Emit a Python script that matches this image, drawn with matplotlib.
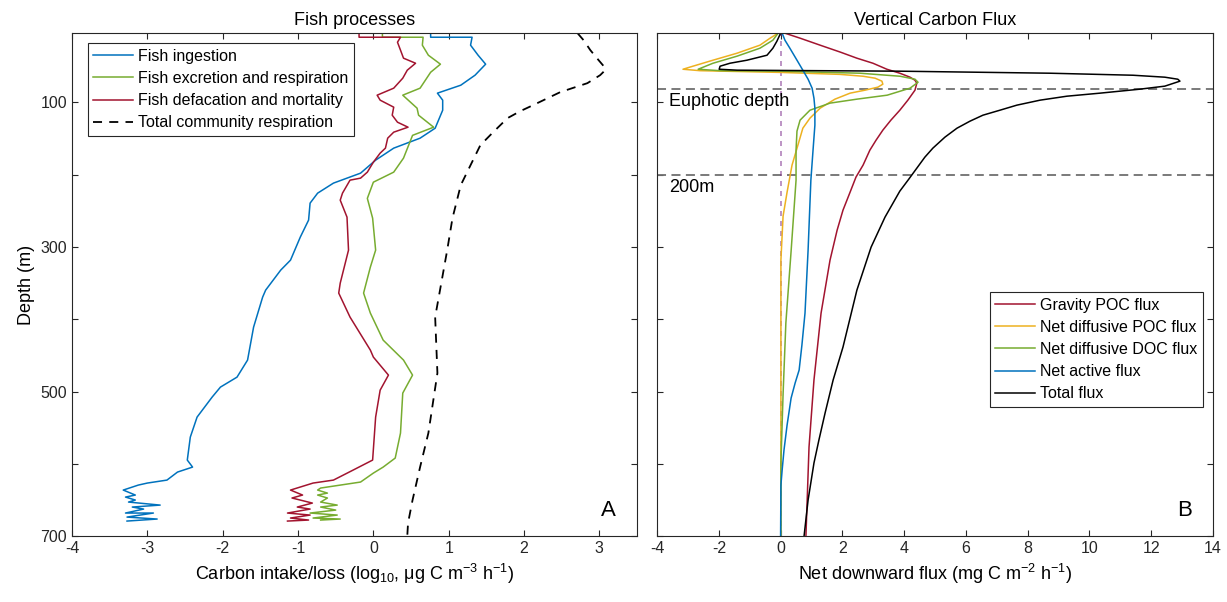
import numpy as np
import matplotlib
matplotlib.use('Agg')
import matplotlib.pyplot as plt

plt.rcParams['font.family'] = ['Liberation Sans', 'DejaVu Sans']
plt.rcParams['mathtext.default'] = 'regular'
plt.rcParams['axes.unicode_minus'] = False

# ---------------- Panel A: fish processes (log10 ug C m-3 h-1) ----------------
ing_depth = [4.1, 9.7, 9.7, 20.7, 34.6, 47.0, 62.2, 76.1, 87.1, 96.8, 110.7, 135.6, 149.4,
             163.2, 179.8, 197.8, 211.6, 225.5, 239.3, 262.8, 286.3, 318.2, 332.0, 359.7,
             369.4, 410.9, 456.5, 480.1, 493.9, 507.7, 535.4, 563.1, 594.9, 604.6, 611.5,
             622.6, 626.7, 629.5, 636.4, 643.3, 646.1, 650.2, 653.0, 657.2, 659.9, 662.7,
             668.2, 668.2, 673.8, 676.5, 679.3]
ing_val = [0.76, 0.76, 1.31, 1.29, 1.39, 1.49, 1.35, 1.16, 0.85, 0.92, 0.92, 0.82, 0.62,
           0.27, 0.03, -0.17, -0.53, -0.74, -0.84, -0.86, -0.97, -1.10, -1.23, -1.43,
           -1.47, -1.59, -1.67, -1.81, -2.03, -2.14, -2.34, -2.43, -2.47, -2.40, -2.60,
           -2.74, -3.00, -3.12, -3.32, -3.16, -3.29, -3.16, -3.25, -2.83, -3.20, -3.05,
           -3.29, -2.92, -3.27, -2.87, -3.27]

exc_depth = [4.1, 9.7, 9.7, 20.7, 34.6, 47.0, 58.2, 80.2, 89.9, 107.9, 117.6, 134.2, 145.5,
             177.0, 196.4, 210.3, 232.7, 260.1, 304.3, 327.8, 363.8, 391.5, 428.9, 456.5,
             477.3, 502.2, 557.5, 592.1, 604.6, 612.9, 625.3, 633.6, 636.4, 640.6, 643.3,
             647.4, 653.0, 657.2, 659.9, 664.1, 668.2, 671.0, 675.1, 676.5, 677.9]
exc_val = [0.12, 0.12, 0.66, 0.65, 0.73, 0.89, 0.76, 0.62, 0.39, 0.58, 0.60, 0.80, 0.52,
           0.40, 0.27, 0.00, -0.08, -0.01, 0.03, -0.04, -0.13, -0.04, 0.13, 0.40,
           0.52, 0.39, 0.36, 0.29, 0.13, 0.00, -0.17, -0.70, -0.74, -0.61, -0.74,
           -0.61, -0.70, -0.48, -0.70, -0.50, -0.84, -0.48, -0.80, -0.44, -0.70]

def_depth = [4.1, 9.7, 9.7, 16.6, 27.6, 38.7, 45.7, 55.3, 66.4, 80.2, 89.9, 96.8, 106.5,
             117.6, 127.3, 134.2, 141.1, 149.4, 163.2, 170.1, 182.6, 196.4, 204.7, 207.5,
             225.5, 235.2, 258.7, 304.3, 350.0, 363.8, 397.0, 442.7, 452.4, 477.3, 498.1,
             535.4, 594.9, 608.8, 622.6, 626.7, 636.4, 643.3, 647.4, 654.4, 659.9, 662.7,
             668.2, 671.0, 675.1, 677.9, 679.3]
def_val = [-0.19, -0.19, 0.36, 0.32, 0.36, 0.40, 0.56, 0.45, 0.39, 0.27, 0.05, 0.09, 0.27,
           0.25, 0.32, 0.46, 0.27, 0.19, 0.16, 0.09, 0.00, -0.08, -0.17, -0.31,
           -0.41, -0.44, -0.35, -0.33, -0.44, -0.46, -0.31, -0.04, 0.00, 0.20, 0.09,
           0.03, -0.01, -0.27, -0.53, -0.80, -1.10, -0.94, -1.08, -0.81, -1.01, -0.84,
           -1.14, -0.84, -1.10, -0.86, -1.14]

resp_depth = [4.1, 13.8, 27.6, 41.5, 52.5, 58.1, 62.2, 73.3, 85.7, 103.7, 112.0, 121.7,
              141.1, 159.1, 186.7, 214.4, 260.1, 304.3, 397.0, 474.5, 557.5, 604.6,
              650.2, 682.1, 700.0]
resp_val = [2.71, 2.79, 2.88, 2.99, 3.08, 3.05, 3.01, 2.84, 2.48, 2.12, 1.95, 1.78,
            1.59, 1.42, 1.29, 1.16, 1.05, 0.98, 0.82, 0.85, 0.73, 0.62, 0.52, 0.46, 0.45]

# ---------------- Panel B: vertical carbon flux (mg C m-2 h-1) ----------------
grav_depth = [4.1, 11.0, 20.7, 30.4, 38.7, 45.7, 54.0, 59.5, 65.0, 69.2, 73.3, 83.0, 96.8,
              110.7, 124.5, 138.3, 152.2, 166.0, 186.7, 203.3, 224.1, 249.0, 276.7,
              318.2, 391.5, 484.2, 576.9, 700.0]
grav_val = [0.14, 0.63, 1.28, 1.94, 2.47, 2.99, 3.44, 3.86, 4.19, 4.35, 4.41, 4.35, 4.12,
            3.86, 3.57, 3.31, 3.09, 2.89, 2.67, 2.44, 2.25, 2.02, 1.83,
            1.60, 1.31, 1.08, 0.92, 0.82]

dpoc_depth = [4.1, 11.0, 20.7, 31.8, 41.5, 49.8, 54.0, 56.0, 58.4, 61.1, 63.7, 66.4, 70.5,
              74.7, 78.8, 83.0, 87.1, 95.4, 107.9, 121.7, 135.6, 159.1, 186.7, 224.1,
              257.3, 318.2, 700.0]
dpoc_val = [-0.08, -0.34, -0.67, -1.41, -2.19, -2.84, -3.16, -2.61, 0.00, 1.92, 2.67, 3.06,
            3.28, 3.31, 3.15, 2.73, 2.25, 1.76, 1.28, 0.95, 0.72, 0.56, 0.37, 0.21,
            0.08, 0.01, 0.01]

ddoc_depth = [4.1, 13.8, 24.9, 35.9, 45.7, 54.0, 56.0, 56.7, 59.5, 63.7, 67.8, 72.0, 80.2,
              89.9, 95.4, 100.9, 110.7, 124.5, 139.7, 166.0, 207.5, 305.7, 405.3, 503.6,
              599.0, 700.0]
ddoc_val = [-0.08, -0.25, -0.67, -1.41, -2.19, -2.67, -1.96, 0.00, 2.57, 3.87, 4.35, 4.45,
            4.19, 3.45, 2.47, 1.60, 0.95, 0.63, 0.53, 0.50, 0.50, 0.34, 0.17, 0.08,
            0.01, 0.01]

act_depth = [4.1, 13.8, 24.9, 41.5, 55.3, 67.8, 80.2, 94.1, 107.9, 131.4, 166.0, 207.5,
             304.3, 391.5, 435.7, 470.3, 488.3, 509.1, 546.4, 581.0, 608.7, 629.5, 700.0]
act_val = [0.05, 0.14, 0.30, 0.53, 0.72, 0.89, 1.02, 1.08, 1.11, 1.11, 1.05, 0.98,
           0.89, 0.79, 0.69, 0.60, 0.47, 0.34, 0.21, 0.11, 0.05, 0.01, 0.00]

tot_depth = [4.1, 15.2, 24.9, 34.6, 41.5, 45.7, 49.8, 54.0, 55.3, 56.7, 59.5, 62.3, 65.0,
             67.8, 70.5, 77.4, 81.6, 87.1, 91.3, 96.8, 103.7, 110.7, 117.6, 125.9, 135.6,
             148.0, 163.2, 175.7, 190.9, 206.1, 222.7, 258.7, 300.2, 359.7, 438.5, 484.2,
             529.8, 567.2, 599.0, 650.2, 700.0]
tot_val = [0.00, -0.12, -0.25, -0.44, -1.09, -1.64, -1.96, -1.99, -1.41, 3.87, 8.72, 11.41,
           12.44, 12.86, 12.93, 12.44, 11.63, 10.34, 9.27, 8.40, 7.65, 7.10, 6.55, 6.13,
           5.71, 5.32, 4.93, 4.67, 4.41, 4.15, 3.86, 3.38, 2.93, 2.47, 2.02, 1.70,
           1.44, 1.24, 1.08, 0.89, 0.76]

euphotic_depth = 82
ref_depth = 200

c_blue = '#0072BD'
c_red = '#A2142F'
c_green = '#77AC30'
c_yellow = '#EDB120'
c_purple = '#7E2F8E'

fig = plt.figure(figsize=(12.27, 6.02), dpi=100)
ax1 = fig.add_axes([0.0587, 0.1096, 0.4605, 0.8354])
ax2 = fig.add_axes([0.5355, 0.1096, 0.4531, 0.8354])

lw = 1.1
ax1.plot(ing_val, ing_depth, color=c_blue, lw=lw, label='Fish ingestion')
ax1.plot(exc_val, exc_depth, color=c_green, lw=lw, label='Fish excretion and respiration')
ax1.plot(def_val, def_depth, color=c_red, lw=lw, label='Fish defacation and mortality')
ax1.plot(resp_val, resp_depth, color='black', lw=1.3, dashes=(5, 4),
         label='Total community respiration')

ax2.axhline(euphotic_depth, color='#707070', lw=1.3, dashes=(5, 3))
ax2.axhline(ref_depth, color='#707070', lw=1.3, dashes=(5, 3))
ax2.axvline(0, color=c_purple, alpha=0.6, lw=1.2, dashes=(3, 3))
ax2.plot(grav_val, grav_depth, color=c_red, lw=lw, label='Gravity POC flux')
ax2.plot(dpoc_val, dpoc_depth, color=c_yellow, lw=lw, label='Net diffusive POC flux')
ax2.plot(ddoc_val, ddoc_depth, color=c_green, lw=lw, label='Net diffusive DOC flux')
ax2.plot(act_val, act_depth, color=c_blue, lw=lw, label='Net active flux')
ax2.plot(tot_val, tot_depth, color='black', lw=lw, label='Total flux')

ax2.text(-3.6, euphotic_depth + 17, 'Euphotic depth', fontsize=13, va='center')
ax2.text(-3.6, ref_depth + 18, '200m', fontsize=13, va='center')
ax1.text(0.95, 0.05, 'A', transform=ax1.transAxes, fontsize=16, ha='center', va='center')
ax2.text(0.948, 0.05, 'B', transform=ax2.transAxes, fontsize=16, ha='center', va='center')

for ax in (ax1, ax2):
    ax.set_ylim(700, 4)
    ax.set_yticks(np.arange(100, 701, 100))
    ax.tick_params(direction='in', top=True, right=True, labelsize=11.5,
                   color='#262626', length=4, labelcolor='#262626')
    for s in ax.spines.values():
        s.set_color('#262626')
        s.set_linewidth(0.8)

ax1.set_xlim(-4, 3.5)
ax1.set_xticks(np.arange(-4, 4, 1))
ax1.set_yticklabels(['100', '', '300', '', '500', '', '700'])
ax1.set_ylabel('Depth (m)', fontsize=13)
ax1.set_xlabel('Carbon intake/loss (log$_{10}$, \u03bcg C m$^{-3}$ h$^{-1}$)', fontsize=13)
ax1.set_title('Fish processes', fontsize=13)

ax2.set_xlim(-4, 14)
ax2.set_xticks(np.arange(-4, 15, 2))
ax2.set_yticklabels([])
ax2.set_xlabel('Net downward flux (mg C m$^{-2}$ h$^{-1}$)', fontsize=13)
ax2.set_title('Vertical Carbon Flux', fontsize=13)

leg_kw = dict(fontsize=11.5, fancybox=False, framealpha=1, edgecolor='#262626',
              handlelength=2.5, handletextpad=0.3, labelspacing=0.45, borderpad=0.35,
              borderaxespad=0)
leg1 = ax1.legend(loc='upper left', bbox_to_anchor=(0.028, 0.98), **leg_kw)
leg2 = ax2.legend(loc='upper right', bbox_to_anchor=(0.982, 0.485), **leg_kw)
for leg in (leg1, leg2):
    leg.get_frame().set_linewidth(0.8)

fig.savefig('out.png', dpi=100, facecolor='white')
